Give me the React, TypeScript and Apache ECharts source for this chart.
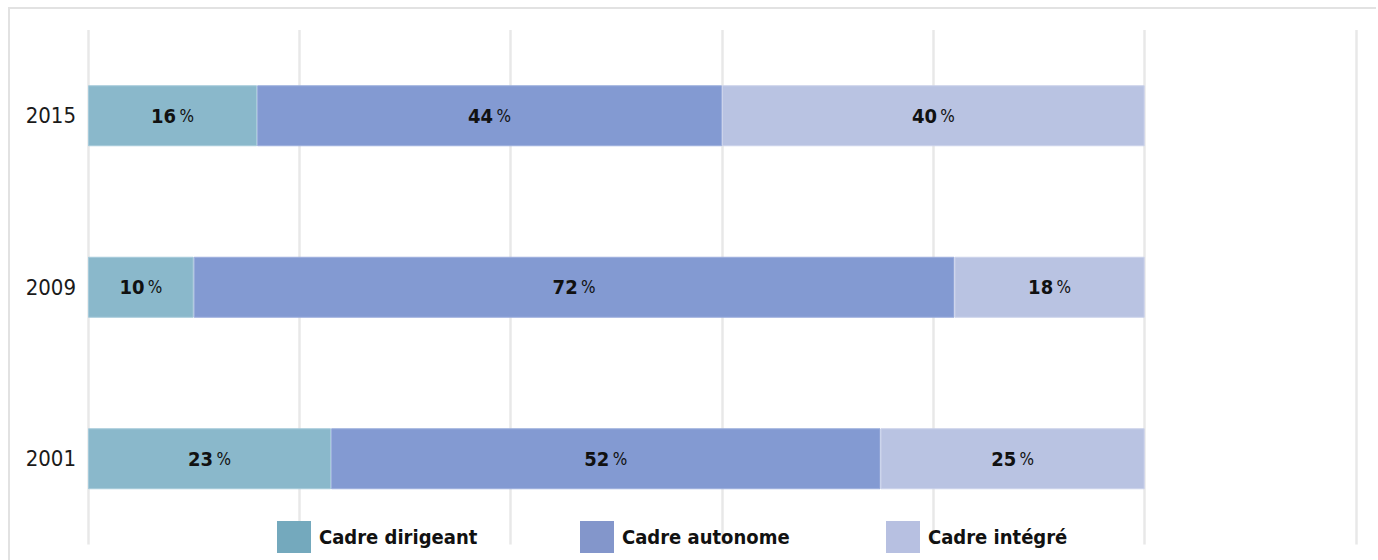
import React, { useEffect, useRef } from "react";
import * as echarts from "echarts";

const years = ["2001", "2009", "2015"];
const seriesNames = ["Cadre dirigeant", "Cadre autonome", "Cadre intégré"];
const dirigeant = [23, 10, 16];
const autonome = [52, 72, 44];
const integre = [25, 18, 40];
const xTicks = [0, 20, 40, 60, 80, 100, 120];

const barColors = ["#8AB8CB", "#839AD2", "#B9C3E2"];
const borderColors = ["#A6CADA", "#9DAFDD", "#CBD2EA"];
const legendColors = ["#74A9BD", "#8396CB", "#B7C0E1"];
const legendLeft = [277, 580, 886];

const FONT = "'DejaVu Sans Condensed', 'Liberation Sans Narrow', 'Roboto', sans-serif";

export default function App() {
  const ref = useRef<HTMLDivElement>(null);
  useEffect(() => {
    if (!ref.current) return;
    const chart = echarts.init(ref.current, null, { renderer: "svg" });
    const values = [dirigeant, autonome, integre];
    const option = {
      animation: false,
      backgroundColor: "#ffffff",
      grid: { left: 88, right: 22, top: 30, bottom: 15.5, containLabel: false },
      xAxis: {
        type: "value",
        min: xTicks[0],
        max: xTicks[xTicks.length - 1],
        interval: 20,
        axisLine: { show: false },
        axisTick: { show: false },
        axisLabel: { show: false },
        splitLine: { show: true, lineStyle: { color: "#E8E8E8", width: 2.5 } },
      },
      yAxis: {
        type: "category",
        data: years,
        axisLine: { show: false },
        axisTick: { show: false },
        splitLine: { show: false },
        axisLabel: {
          fontSize: 22,
          color: "#1a1a1a",
          fontFamily: FONT,
          margin: 12,
        },
      },
      legend: seriesNames.map((n, i) => ({
        left: legendLeft[i],
        top: 521,
        itemWidth: 34,
        itemHeight: 32,
        itemGap: 0,
        icon: "rect",
        padding: 0,
        selectedMode: false,
        textStyle: {
          fontSize: 20,
          fontWeight: "bold",
          color: "#111111",
          fontFamily: FONT,
          padding: [0, 0, 0, 3],
        },
        data: [{ name: n, itemStyle: { color: legendColors[i], borderWidth: 0 } }],
      })),
      graphic: [
        { type: "line", shape: { x1: 8, y1: 8, x2: 1376, y2: 8 }, style: { stroke: "#E2E2E2", lineWidth: 2 }, silent: true },
        { type: "line", shape: { x1: 9, y1: 8, x2: 9, y2: 560 }, style: { stroke: "#E2E2E2", lineWidth: 2 }, silent: true },
      ],
      series: seriesNames.map((n, i) => ({
        name: n,
        type: "bar",
        stack: "total",
        barWidth: 61,
        data: values[i],
        itemStyle: { color: barColors[i], borderColor: borderColors[i], borderWidth: 1 },
        label: {
          show: true,
          position: "inside",
          formatter: (p: any) => `{n|${p.value}} {p|%}`,
          rich: {
            n: { fontSize: 20, fontWeight: "bold", color: "#111111", fontFamily: FONT },
            p: { fontSize: 17, fontWeight: "normal", color: "#111111", fontFamily: FONT },
          },
        },
      })),
    };
    chart.setOption(option as any);
    return () => chart.dispose();
  }, []);
  return (
    <div
      ref={ref}
      style={{ position: "absolute", left: 0, top: 0, width: 1378, height: 560 }}
    />
  );
}
